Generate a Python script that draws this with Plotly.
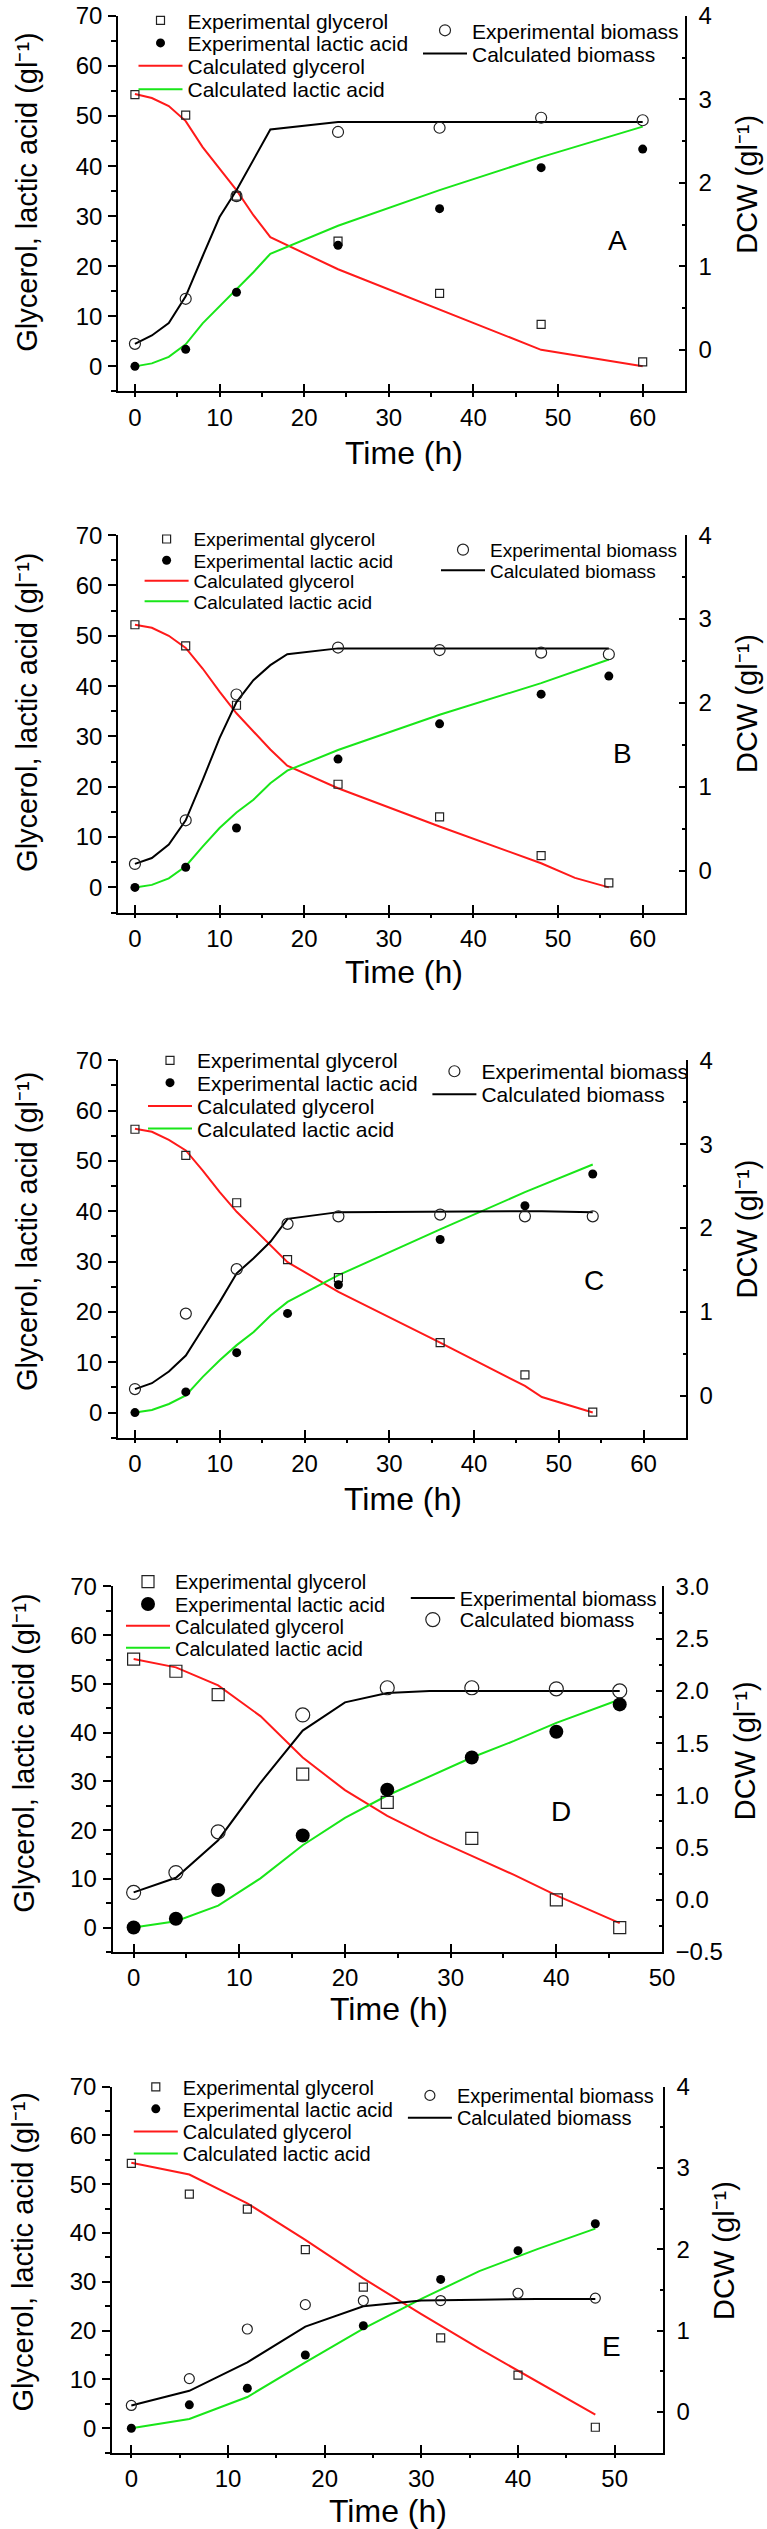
import plotly.graph_objects as go

FONT = "Liberation Sans, Arial, Helvetica, sans-serif"
W, H = 767, 2529

# ---------------- data ----------------
# Panel A
t_exp_A = [0, 6, 12, 24, 36, 48, 60]
gly_exp_A = [54.3, 50.2, 34.0, 25.0, 14.6, 8.4, 0.9]
lac_exp_A = [0.0, 3.4, 14.8, 24.2, 31.5, 39.7, 43.4]
bio_exp_A = [0.07, 0.61, 1.84, 2.61, 2.66, 2.78, 2.75]
t_calc_A = [0, 2, 4, 6, 8, 10, 12, 14, 16, 24, 36, 48, 60]
gly_calc_A = [54.4, 53.6, 52.0, 49.0, 43.8, 39.4, 35.2, 30.2, 25.8, 19.4, 11.3, 3.3, 0.0]
lac_calc_A = [0.0, 0.6, 1.9, 4.4, 8.6, 12.0, 15.2, 18.8, 22.5, 28.1, 35.2, 41.8, 47.9]
bio_calc_A = [0.07, 0.17, 0.32, 0.64, 1.12, 1.59, 1.91, 2.28, 2.64, 2.73, 2.73, 2.73, 2.73]

# Panel B
t_exp_B = [0, 6, 12, 24, 36, 48, 56]
gly_exp_B = [52.2, 48.0, 36.2, 20.5, 14.0, 6.3, 0.9]
lac_exp_B = [0.0, 4.0, 11.8, 25.5, 32.5, 38.4, 42.0]
bio_exp_B = [0.08, 0.60, 2.10, 2.66, 2.63, 2.60, 2.58]
t_calc_B = [0, 2, 4, 6, 8, 10, 12, 14, 16, 18, 24, 36, 48, 52, 56]
gly_calc_B = [52.2, 51.6, 50.0, 47.6, 43.5, 38.9, 34.6, 31.0, 27.4, 24.2, 19.7, 12.1, 4.8, 1.9, 0.0]
lac_calc_B = [0.0, 0.5, 1.8, 4.2, 8.1, 11.8, 14.9, 17.4, 20.7, 23.2, 27.3, 34.3, 40.6, 42.9, 45.3]
bio_calc_B = [0.08, 0.15, 0.31, 0.60, 1.08, 1.58, 2.01, 2.27, 2.45, 2.58, 2.65, 2.65, 2.65, 2.65, 2.65]

# Panel C
t_exp_C = [0, 6, 12, 18, 24, 36, 46, 54]
gly_exp_C = [56.3, 51.1, 41.7, 30.4, 26.8, 13.9, 7.5, 0.1]
lac_exp_C = [0.0, 4.1, 11.9, 19.7, 25.4, 34.4, 41.1, 47.4]
bio_exp_C = [0.08, 0.98, 1.51, 2.05, 2.14, 2.16, 2.14, 2.14]
t_calc_C = [0, 2, 4, 6, 8, 10, 12, 14, 16, 18, 24, 36, 46, 48, 54]
gly_calc_C = [56.4, 55.8, 54.2, 52.1, 48.1, 43.8, 39.9, 36.6, 33.2, 29.9, 24.0, 13.9, 5.3, 3.1, 0.0]
lac_calc_C = [0.0, 0.5, 1.7, 3.4, 7.1, 10.4, 13.4, 16.0, 19.3, 22.0, 27.3, 36.4, 43.8, 45.2, 49.3]
bio_calc_C = [0.08, 0.15, 0.29, 0.48, 0.80, 1.12, 1.46, 1.64, 1.84, 2.11, 2.19, 2.20, 2.20, 2.20, 2.19]

# Panel D
t_exp_D = [0, 4, 8, 16, 24, 32, 40, 46]
gly_exp_D = [55.1, 52.6, 47.8, 31.5, 25.7, 18.3, 5.7, 0.0]
lac_exp_D = [0.0, 1.8, 7.7, 18.9, 28.3, 34.9, 40.2, 45.8]
bio_exp_D = [0.07, 0.26, 0.65, 1.77, 2.03, 2.03, 2.02, 2.00]
t_calc_D = [0, 4, 8, 12, 16, 20, 24, 28, 32, 36, 40, 46]
gly_calc_D = [55.1, 53.4, 49.7, 43.4, 34.9, 28.2, 22.9, 18.6, 14.7, 10.8, 6.6, 0.9]
lac_calc_D = [0.0, 1.3, 4.5, 10.1, 16.9, 22.5, 27.1, 31.0, 34.9, 38.3, 42.0, 46.8]
bio_calc_D = [0.07, 0.21, 0.57, 1.12, 1.62, 1.89, 1.98, 2.00, 2.00, 2.00, 2.00, 2.00]

# Panel E
t_exp_E = [0, 6, 12, 18, 24, 32, 40, 48]
gly_exp_E = [54.3, 48.0, 44.9, 36.6, 28.9, 18.5, 10.9, 0.2]
lac_exp_E = [0.0, 4.8, 8.2, 15.0, 21.0, 30.5, 36.4, 41.9]
bio_exp_E = [0.08, 0.41, 1.02, 1.32, 1.37, 1.37, 1.46, 1.40]
t_calc_E = [0, 6, 12, 18, 24, 30, 36, 42, 48]
gly_calc_E = [54.4, 52.0, 46.1, 38.6, 30.7, 23.4, 16.3, 9.5, 2.8]
lac_calc_E = [0.0, 1.9, 6.4, 13.5, 20.4, 26.5, 32.2, 36.7, 40.9]
bio_calc_E = [0.08, 0.26, 0.61, 1.05, 1.30, 1.37, 1.38, 1.39, 1.39]

# legend labels
name_gly_exp = "Experimental glycerol"
name_lac_exp = "Experimental lactic acid"
name_gly_calc = "Calculated glycerol"
name_lac_calc = "Calculated lactic acid"
name_bio_exp = "Experimental biomass"
name_bio_calc = "Calculated biomass"

# axis texts
x_title = "Time (h)"
y_title = "Glycerol, lactic acid (gl\u207b\u00b9)"
y2_title = "DCW (gl\u207b\u00b9)"

# ---------------- layout geometry (pixels of the 767 x 2529 page) ----------------
panels = [
    dict(label="A", t_exp=t_exp_A, gly_exp=gly_exp_A, lac_exp=lac_exp_A, bio_exp=bio_exp_A,
         t_calc=t_calc_A, gly_calc=gly_calc_A, lac_calc=lac_calc_A, bio_calc=bio_calc_A,
         px=(118, 685), py=(12, 388), xr=[-2, 65], y2r=[-0.5, 4], y2d=1, y2m=0.5, y2fmt="",
         msq=8, mfc=9, moc=11, lfs=21, ltx=187.5, lrows=[16.7, 39.3, 62.3, 85.7],
         rtx=472, rrows=[26.7, 50.0], swap=False,
         lab=(617.6, 237.3), xt=(403.7, 450), yt=(27, 189), y2t=(747, 181)),
    dict(label="B", t_exp=t_exp_B, gly_exp=gly_exp_B, lac_exp=lac_exp_B, bio_exp=bio_exp_B,
         t_calc=t_calc_B, gly_calc=gly_calc_B, lac_calc=lac_calc_B, bio_calc=bio_calc_B,
         px=(118, 685), py=(532, 910), xr=[-2, 65], y2r=[-0.5, 4], y2d=1, y2m=0.5, y2fmt="",
         msq=8, mfc=9, moc=11, lfs=19, ltx=193.6, lrows=[536.0, 557.3, 577.7, 598.3],
         rtx=490, rrows=[546.7, 567.3], swap=False,
         lab=(622.5, 750.7), xt=(403.7, 970), yt=(27, 710), y2t=(747, 701)),
    dict(label="C", t_exp=t_exp_C, gly_exp=gly_exp_C, lac_exp=lac_exp_C, bio_exp=bio_exp_C,
         t_calc=t_calc_C, gly_calc=gly_calc_C, lac_calc=lac_calc_C, bio_calc=bio_calc_C,
         px=(118, 686), py=(1058, 1436), xr=[-2, 65], y2r=[-0.5, 4], y2d=1, y2m=0.5, y2fmt="",
         msq=8, mfc=9, moc=11, lfs=21, ltx=197, lrows=[1058.3, 1080.7, 1104.0, 1126.7],
         rtx=481.4, rrows=[1069.3, 1092.3], swap=False,
         lab=(594, 1279), xt=(403, 1497), yt=(27, 1230), y2t=(747, 1227.5)),
    dict(label="D", t_exp=t_exp_D, gly_exp=gly_exp_D, lac_exp=lac_exp_D, bio_exp=bio_exp_D,
         t_calc=t_calc_D, gly_calc=gly_calc_D, lac_calc=lac_calc_D, bio_calc=bio_calc_D,
         px=(112.5, 662), py=(1585, 1951), xr=[-2, 50], y2r=[-0.5, 3.0], y2d=0.5, y2m=0.25, y2fmt=".1f",
         msq=12, mfc=14, moc=14, lfs=20, ltx=175, lrows=[1580.1, 1602.6, 1624.3, 1646.4],
         rtx=459.8, rrows=[1596.4, 1618.1], swap=True,
         lab=(561, 1810), xt=(388.5, 2008), yt=(24.5, 1752), y2t=(745, 1750)),
    dict(label="E", t_exp=t_exp_E, gly_exp=gly_exp_E, lac_exp=lac_exp_E, bio_exp=bio_exp_E,
         t_calc=t_calc_E, gly_calc=gly_calc_E, lac_calc=lac_calc_E, bio_calc=bio_calc_E,
         px=(112, 663), py=(2086, 2452.5), xr=[-2, 55], y2r=[-0.5, 4], y2d=1, y2m=0.5, y2fmt="",
         msq=8, mfc=9, moc=10, lfs=20, ltx=182.8, lrows=[2086.2, 2108.2, 2130.9, 2152.9],
         rtx=456.9, rrows=[2094.7, 2117.0], swap=False,
         lab=(611, 2346.6), xt=(388, 2510.7), yt=(23, 2252), y2t=(724.5, 2250)),
]

RED = "#ff1a1a"
GREEN = "#19e619"
BLACK = "#000000"
ITEMW = 44  # legend symbol width


def fx(px):
    return px / W


def fy(py):
    return 1 - py / H


fig = go.Figure()
layout = dict(
    width=W, height=H, autosize=False,
    margin=dict(l=0, r=0, t=0, b=0, pad=0),
    paper_bgcolor="white", plot_bgcolor="white",
    font=dict(family=FONT, color="black", size=20),
    showlegend=True,
    annotations=[],
)

legend_counter = [0]


def new_legend(tx, ry, fs):
    legend_counter[0] += 1
    n = legend_counter[0]
    key = "legend" if n == 1 else f"legend{n}"
    layout[key] = dict(
        x=fx(tx - (ITEMW + 10)), y=fy(ry), xref="paper", yref="paper",
        xanchor="left", yanchor="middle", itemwidth=ITEMW,
        bgcolor="rgba(0,0,0,0)", borderwidth=0,
        font=dict(family=FONT, size=fs, color="black"),
        itemclick=False, itemdoubleclick=False,
    )
    return key


for k, p in enumerate(panels, start=1):
    xa, ya, ya2 = f"x{k}", f"y{k}", f"y{k + 5}"
    xname = "xaxis" if k == 1 else f"xaxis{k}"
    yname = "yaxis" if k == 1 else f"yaxis{k}"
    y2name = f"yaxis{k + 5}"
    xdom = [fx(p["px"][0]), fx(p["px"][1])]
    ydom = [fy(p["py"][1]), fy(p["py"][0])]

    tickfont = dict(family=FONT, size=24, color="black")
    layout[xname] = dict(
        domain=xdom, anchor=ya, range=p["xr"], showgrid=False, zeroline=False,
        showline=True, linecolor="black", linewidth=1.5,
        ticks="inside", ticklen=8, tickwidth=1.5, tickcolor="black",
        tick0=0, dtick=10, tickfont=tickfont, ticklabelstandoff=4,
        minor=dict(ticks="outside", ticklen=4, tickwidth=1.5, tickcolor="black", dtick=5, tick0=0),
        automargin=False, fixedrange=True,
    )
    layout[yname] = dict(
        domain=ydom, anchor=xa, range=[-5, 70], showgrid=False, zeroline=False,
        showline=True, linecolor="black", linewidth=1.5,
        ticks="outside", ticklen=8, tickwidth=1.5, tickcolor="black",
        tick0=0, dtick=10, tickfont=tickfont, ticklabelstandoff=1,
        minor=dict(ticks="outside", ticklen=5, tickwidth=1.5, tickcolor="black", dtick=5, tick0=0),
        automargin=False, fixedrange=True,
    )
    layout[y2name] = dict(
        overlaying=ya, anchor=xa, side="right", range=p["y2r"], showgrid=False, zeroline=False,
        showline=True, linecolor="black", linewidth=1.5,
        ticks="inside", ticklen=6, tickwidth=1.5, tickcolor="black",
        tick0=0, dtick=p["y2d"], tickformat=p["y2fmt"], tickfont=tickfont, ticklabelstandoff=7,
        minor=dict(ticks="inside", ticklen=3, tickwidth=1.5, tickcolor="black", dtick=p["y2m"], tick0=0),
        automargin=False, fixedrange=True,
    )

    fs = p["lfs"]
    lr = p["lrows"]
    rr = p["rrows"]

    fig.add_trace(go.Scatter(
        x=p["t_calc"], y=p["gly_calc"], mode="lines", name=name_gly_calc,
        line=dict(color=RED, width=2), xaxis=xa, yaxis=ya,
        legend=new_legend(p["ltx"], lr[2], fs)))
    fig.add_trace(go.Scatter(
        x=p["t_calc"], y=p["lac_calc"], mode="lines", name=name_lac_calc,
        line=dict(color=GREEN, width=2), xaxis=xa, yaxis=ya,
        legend=new_legend(p["ltx"], lr[3], fs)))
    fig.add_trace(go.Scatter(
        x=p["t_exp"], y=p["gly_exp"], mode="markers", name=name_gly_exp,
        marker=dict(symbol="square-open", size=p["msq"], color="#222222", line=dict(width=1.2)),
        xaxis=xa, yaxis=ya, legend=new_legend(p["ltx"], lr[0], fs)))
    fig.add_trace(go.Scatter(
        x=p["t_exp"], y=p["lac_exp"], mode="markers", name=name_lac_exp,
        marker=dict(symbol="circle", size=p["mfc"], color="black"),
        xaxis=xa, yaxis=ya, legend=new_legend(p["ltx"], lr[1], fs)))

    if p["swap"]:
        line_name, mark_name = name_bio_exp, name_bio_calc
        line_row, mark_row = rr[0], rr[1]
    else:
        line_name, mark_name = name_bio_calc, name_bio_exp
        line_row, mark_row = rr[1], rr[0]
    fig.add_trace(go.Scatter(
        x=p["t_calc"], y=p["bio_calc"], mode="lines", name=line_name,
        line=dict(color=BLACK, width=2), xaxis=xa, yaxis=ya2,
        legend=new_legend(p["rtx"], line_row, fs)))
    fig.add_trace(go.Scatter(
        x=p["t_exp"], y=p["bio_exp"], mode="markers", name=mark_name,
        marker=dict(symbol="circle-open", size=p["moc"], color="#222222", line=dict(width=1.2)),
        xaxis=xa, yaxis=ya2, legend=new_legend(p["rtx"], mark_row, fs)))

    ann = layout["annotations"]
    ann.append(dict(text=p["label"], x=fx(p["lab"][0]), y=fy(p["lab"][1]), xref="paper", yref="paper",
                    xanchor="center", yanchor="middle", showarrow=False,
                    font=dict(family=FONT, size=28, color="black")))
    ann.append(dict(text=x_title, x=fx(p["xt"][0]), y=fy(p["xt"][1]), xref="paper", yref="paper",
                    xanchor="center", yanchor="middle", showarrow=False,
                    font=dict(family=FONT, size=32, color="black")))
    ann.append(dict(text=y_title, x=fx(p["yt"][0]), y=fy(p["yt"][1]), xref="paper", yref="paper",
                    xanchor="center", yanchor="middle", showarrow=False, textangle=-90,
                    font=dict(family=FONT, size=29, color="black")))
    ann.append(dict(text=y2_title, x=fx(p["y2t"][0]), y=fy(p["y2t"][1]), xref="paper", yref="paper",
                    xanchor="center", yanchor="middle", showarrow=False, textangle=-90,
                    font=dict(family=FONT, size=29, color="black")))

fig.update_layout(**layout)
fig.write_html("out.html", config={"displayModeBar": False},
               post_script="document.body.style.margin='0';")
